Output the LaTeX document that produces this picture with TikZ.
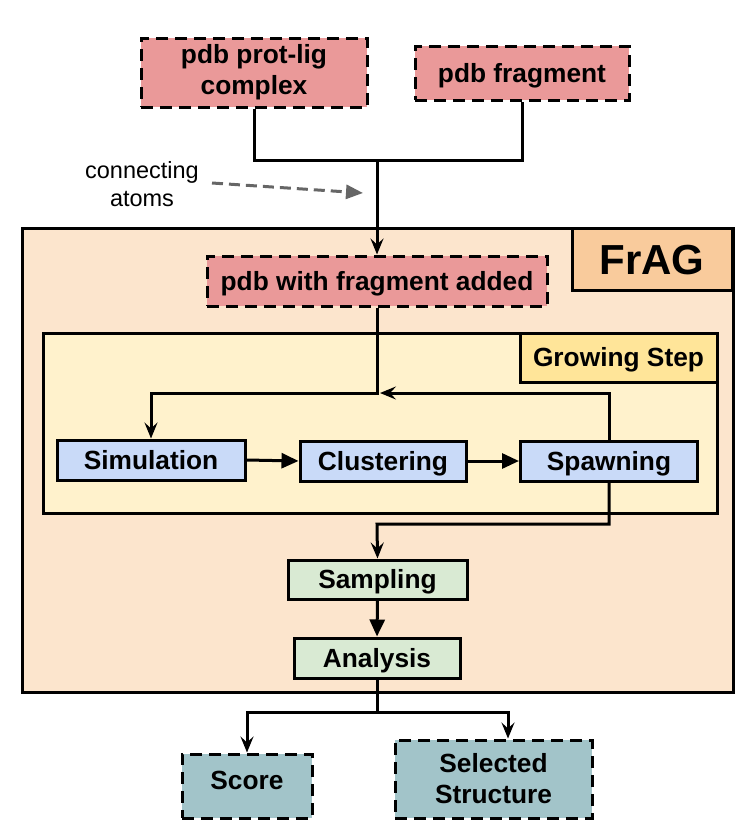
\documentclass[tikz,border=0pt]{standalone}
\usepackage{fontspec}
\setmainfont{Liberation Sans}
\usetikzlibrary{arrows.meta,calc}
\definecolor{pinkc}{HTML}{EA9999}
\definecolor{peach}{HTML}{FCE5CD}
\definecolor{orangec}{HTML}{F9CB9C}
\definecolor{yellowbg}{HTML}{FFF2CC}
\definecolor{yellowc}{HTML}{FFE599}
\definecolor{bluec}{HTML}{C9DAF8}
\definecolor{greenc}{HTML}{D9EAD3}
\definecolor{tealc}{HTML}{A2C4C9}
\definecolor{grayc}{HTML}{666666}
\tikzset{
  base/.style={draw=black, line width=3pt, inner sep=0pt, align=center,
    font=\fontsize{26.3}{31}\selectfont\bfseries},
  one/.style={text height=18.8pt, text depth=0pt},
  dbox/.style={base, dash pattern=on 12pt off 7pt},
  pinkbox/.style={dbox, fill=pinkc},
  tealbox/.style={dbox, fill=tealc},
  bluebox/.style={base, one, fill=bluec},
  greenbox/.style={base, one, fill=greenc},
  conn/.style={line width=3pt, draw=black},
  sarrow/.style={conn, -{Stealth[length=16pt,width=13pt,inset=6pt]}},
  tarrow/.style={conn, -{Triangle[length=17pt,width=15pt]}},
}
\begin{document}
\begin{tikzpicture}[x=1pt,y=-1pt]
\useasboundingbox (0,0) rectangle (755,830);
% big containers
\node[base, fill=peach, minimum width=711pt, minimum height=464pt] (frag-area) at (377.5,460) {};
\node[base, fill=orangec, minimum width=160pt, minimum height=62pt,
  text height=30pt, text depth=0pt,
  font=\fontsize{42}{48}\selectfont\bfseries] (fraglabel) at (652,259) {FrAG};
\node[base, fill=yellowbg, minimum width=674pt, minimum height=180pt] (grow) at (380,423) {};
\node[base, one, fill=yellowc, minimum width=197pt, minimum height=49pt] (growlabel) at (618.5,357.5) {Growing Step};
% top inputs
\node[pinkbox, minimum width=226pt, minimum height=69pt] (cplx) at (254,72.5) {pdb prot-lig\\complex};
\node[pinkbox, one, minimum width=214pt, minimum height=54pt] (frag) at (522,73) {pdb fragment};
\coordinate (j1) at (377,160);
\node[pinkbox, one, minimum width=340pt, minimum height=50pt] (added) at (377,281) {pdb with fragment added};
% connecting atoms
\node[align=center, font=\fontsize{23.5}{28}\selectfont] (catoms) at (142,184) {connecting\\atoms};
\coordinate (caend) at (363,193);
\draw[draw=grayc, line width=3pt, dash pattern=on 11pt off 6pt,
  -{Triangle[length=17pt,width=14pt,fill=grayc]}] (212,183) -- (caend);
% growing step nodes
\node[bluebox, minimum width=188pt, minimum height=40pt] (sim) at (151,460) {Simulation};
\node[bluebox, minimum width=166pt, minimum height=40pt] (clu) at (383,461) {Clustering};
\node[bluebox, minimum width=177pt, minimum height=40pt] (spa) at (609,461) {Spawning};
% sampling / analysis
\node[greenbox, minimum width=179pt, minimum height=39pt] (samp) at (377.5,579.5) {Sampling};
\node[greenbox, minimum width=166pt, minimum height=40pt] (ana) at (377,658) {Analysis};
% outputs
\node[tealbox, text height=18.8pt, text depth=12pt, minimum width=130pt, minimum height=64pt] (score) at (247,786) {Score};
\node[tealbox, minimum width=197pt, minimum height=78pt] (sel) at (493.5,779) {Selected\\Structure};
% connectors
\draw[conn] (cplx.south) |- (frag.south |- j1) -- (frag.south);
\draw[sarrow] (j1) -- (added.north);
\coordinate (j2) at (377,393);
\draw[sarrow] (added.south) -- (j2) -| (sim.north);
\coordinate (fb) at (380,393);
\draw[sarrow] (spa.north) |- (fb);
\draw[tarrow] (sim.east) -- (clu.west);
\draw[tarrow] (clu.east) -- (spa.west);
\coordinate (j3) at (377,524);
\draw[sarrow] (spa.south) |- (j3) -- (samp.north);
\draw[tarrow] (samp.south) -- (ana.north);
\coordinate (j4) at (377,712);
\draw[conn] (ana.south) -- (j4);
\draw[sarrow] (j4) -| (score.north);
\draw[sarrow] (j4) -| ([xshift=14.5pt]sel.north);
\end{tikzpicture}
\end{document}
